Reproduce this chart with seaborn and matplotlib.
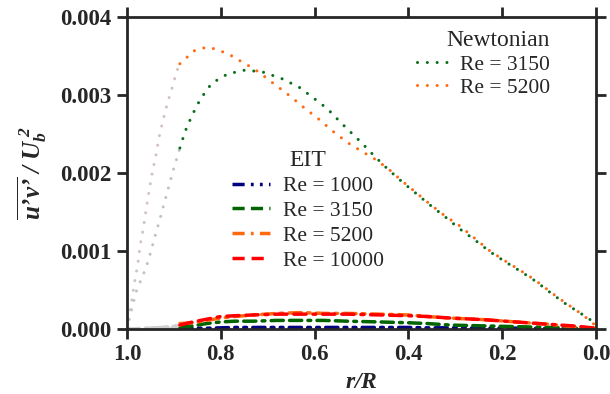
import numpy as np
import pandas as pd
import matplotlib
matplotlib.use('Agg')
import matplotlib.pyplot as plt
from matplotlib.lines import Line2D
import seaborn as sns

# Newtonian, Re = 3150 (r/R, <u'v'>/Ub^2)
newt3150_r = [1.0, 0.99, 0.98, 0.97, 0.96, 0.95, 0.94, 0.93, 0.92, 0.91, 0.90, 0.887,
              0.876, 0.861, 0.843, 0.819, 0.785, 0.747, 0.708, 0.67, 0.633, 0.602, 0.572,
              0.543, 0.514, 0.5, 0.473, 0.444, 0.414, 0.384, 0.354, 0.322, 0.292, 0.258,
              0.226, 0.193, 0.161, 0.128, 0.096, 0.064, 0.03, 0.0]
newt3150_v = [0.0, 0.00025, 0.00048, 0.00063, 0.00077, 0.00097, 0.00119, 0.0014, 0.00162,
              0.00184, 0.00206, 0.00232,
              0.00253, 0.00274, 0.00295, 0.00315, 0.00327, 0.00332, 0.00329, 0.00321, 0.0031,
              0.00296, 0.00282, 0.00264, 0.00247, 0.00239, 0.00222, 0.00205, 0.00189, 0.00174,
              0.00159, 0.00144, 0.00129, 0.00114, 0.00099, 0.00086, 0.00074, 0.00061, 0.00046,
              0.00032, 0.00019, 0.00007]

# Newtonian, Re = 5200
newt5200_r = [1.0, 0.996, 0.99, 0.984, 0.977, 0.972, 0.965, 0.959, 0.953, 0.946, 0.938,
              0.931, 0.922, 0.913, 0.905, 0.894, 0.887,
              0.874, 0.859, 0.84, 0.823, 0.804, 0.785, 0.768, 0.751, 0.733, 0.716, 0.686,
              0.653, 0.623, 0.591, 0.556, 0.527, 0.5, 0.472, 0.444, 0.414, 0.384, 0.354,
              0.322, 0.29, 0.258, 0.226, 0.193, 0.161, 0.128, 0.096, 0.064, 0.03, 0.0]
newt5200_v = [0.0, 0.00012, 0.00035, 0.00059, 0.00082, 0.00106, 0.00129, 0.00153, 0.00176,
              0.002, 0.00223, 0.00247, 0.0027, 0.00291, 0.00306, 0.0033, 0.0034,
              0.00347, 0.00356, 0.0036, 0.00361, 0.00357, 0.00353, 0.00347, 0.00341, 0.00335,
              0.00328, 0.00314, 0.00299, 0.00284, 0.00269, 0.00251, 0.00238, 0.00228, 0.00218,
              0.00206, 0.0019, 0.00175, 0.0016, 0.00145, 0.00132, 0.00116, 0.001, 0.00087,
              0.00075, 0.00062, 0.00047, 0.00033, 0.00019, 0.00004]

# EIT cases share one radial grid
eit_r = [1.0, 0.95, 0.9, 0.887, 0.86, 0.83, 0.8, 0.77, 0.73, 0.68, 0.63, 0.58, 0.53,
         0.46, 0.4, 0.36, 0.31, 0.24, 0.17, 0.1, 0.05, 0.0]
eit1000_v = [0, 0, 0, 0.000005, 0.00001, 0.00001, 0.000015, 0.00002, 0.00002, 0.00002,
             0.00002, 0.00002, 0.00002, 0.00002, 0.00002, 0.000015, 0.000015, 0.00001,
             0.00001, 0.000005, 0.000003, 0]
eit3150_v = [0, 0.000005, 0.00001, 0.00002, 0.00004, 0.00007, 0.00009, 0.0001, 0.0001,
             0.00011, 0.00011, 0.00011, 0.0001, 0.00009, 0.00008, 0.00007, 0.00005,
             0.00004, 0.00003, 0.00002, 0.00001, 0]
eit5200_v = [0, 0.00001, 0.00003, 0.00007, 0.00008, 0.00011, 0.00014, 0.00016, 0.00018,
             0.0002, 0.00021, 0.0002, 0.0002, 0.00019, 0.00018, 0.00016, 0.00014, 0.00012,
             0.00009, 0.00006, 0.00003, 0.00001]
eit10000_v = [0, 0.00001, 0.00003, 0.00005, 0.00009, 0.000125, 0.00016, 0.00017, 0.00018,
              0.00019, 0.00019, 0.00019, 0.00019, 0.00018, 0.00017, 0.00016, 0.00014,
              0.00012, 0.00009, 0.00006, 0.00004, 0.00001]

r_cut = 0.887  # near-wall part drawn in grey

sns.set_style('ticks')
plt.rcParams['font.family'] = ['Liberation Serif', 'DejaVu Serif']
plt.rcParams['mathtext.fontset'] = 'custom'
plt.rcParams['mathtext.rm'] = 'Liberation Serif'
plt.rcParams['mathtext.it'] = 'Liberation Serif:italic'
plt.rcParams['mathtext.bf'] = 'Liberation Serif:italic:bold'

fig, ax = plt.subplots(figsize=(6.1, 3.94), dpi=100)
fig.subplots_adjust(left=0.208, right=0.977, top=0.957, bottom=0.165)

dot = (0, (0.01, 3.2))
eit_styles = {
    '1000': ('#000080', (0, (3.5, 1.8, 0.8, 1.8, 0.8, 1.8))),
    '3150': ('#006400', (0, (3.5, 1.8, 3.5, 1.8, 0.8, 1.8))),
    '5200': ('#ff6a10', (0, (3.5, 1.8, 0.8, 1.8))),
    '10000': ('#ff0000', (0, (3.5, 2, 3.5, 2, 0.8, 2))),
}
eit_vals = {'1000': eit1000_v, '3150': eit3150_v, '5200': eit5200_v, '10000': eit10000_v}


def draw(r, v, color, grey, ls, lw):
    df = pd.DataFrame({'r': r, 'v': v})
    near = df[df['r'] >= r_cut]
    core = df[df['r'] <= r_cut]
    sns.lineplot(data=near, x='r', y='v', ax=ax, color=grey, linestyle=ls, lw=lw,
                 estimator=None, sort=False, dash_capstyle='round')
    sns.lineplot(data=core, x='r', y='v', ax=ax, color=color, linestyle=ls, lw=lw,
                 estimator=None, sort=False, dash_capstyle='round')


for key in ['1000', '3150', '5200', '10000']:
    c, ls = eit_styles[key]
    draw(eit_r, eit_vals[key], c, '#cfcfcf', ls, 2.5)

draw(newt3150_r, newt3150_v, '#0b6e1c', '#bcc5c0', dot, 2.2)
draw(newt5200_r, newt5200_v, '#ff6a13', '#d3c3bc', dot, 2.2)

ax.set_xlim(1.0, 0.0)
ax.set_ylim(0.0, 0.004)
ax.set_xticks([1.0, 0.8, 0.6, 0.4, 0.2, 0.0])
ax.set_yticks([0.0, 0.001, 0.002, 0.003, 0.004])
ax.set_xticklabels(['1.0', '0.8', '0.6', '0.4', '0.2', '0.0'])
ax.set_yticklabels(['0.000', '0.001', '0.002', '0.003', '0.004'])
for lab in ax.get_xticklabels() + ax.get_yticklabels():
    lab.set_fontweight('bold')
ax.tick_params(axis='both', which='both', direction='out', length=7, width=2,
               labelsize=16.5, top=True, right=True, pad=4)
for s in ax.spines.values():
    s.set_linewidth(2)
    s.set_visible(True)

ax.set_xlabel(r'$\mathbf{r/R}$', fontsize=17, labelpad=5)
ax.set_ylabel('$\\mathbf{\\overline{u\u2019v\u2019}\\ /\\ U_b^{\\ 2}}$', fontsize=18,
              labelpad=8)

# legends
newt_handles = [Line2D([], [], color='#0b6e1c', linestyle=dot, lw=2.2, dash_capstyle='round'),
                Line2D([], [], color='#ff6a13', linestyle=dot, lw=2.2, dash_capstyle='round')]
leg1 = ax.legend(newt_handles, ['Re = 3150', 'Re = 5200'], title='Newtonian',
                 loc='upper left', bbox_to_anchor=(0.6, 0.985), frameon=False,
                 fontsize=15.5, title_fontsize=17, handlelength=1.5, handletextpad=0.5,
                 labelspacing=0.15, borderaxespad=0)
leg1._legend_box.align = 'right'
ax.add_artist(leg1)

eit_handles = [Line2D([], [], color=eit_styles[k][0], linestyle=eit_styles[k][1], lw=2.5)
               for k in ['1000', '3150', '5200', '10000']]
leg2 = ax.legend(eit_handles, ['Re = 1000', 'Re = 3150', 'Re = 5200', 'Re = 10000'],
                 title='EIT', loc='upper left', bbox_to_anchor=(0.205, 0.6), frameon=False,
                 fontsize=15.5, title_fontsize=17, handlelength=1.8, handletextpad=0.6,
                 labelspacing=0.22, borderaxespad=0)

fig.savefig('out.png', dpi=100)
